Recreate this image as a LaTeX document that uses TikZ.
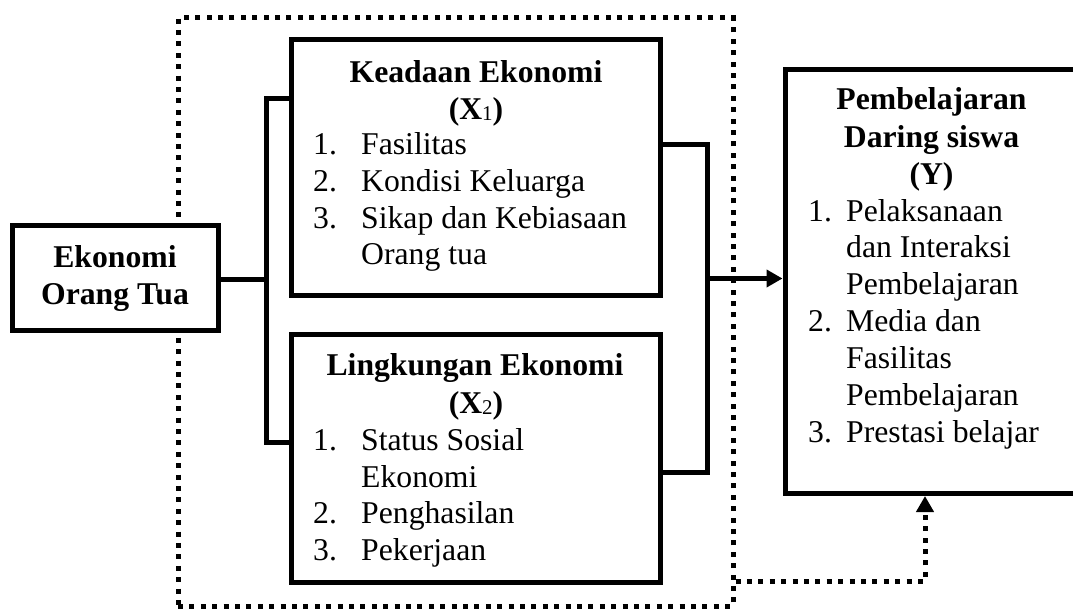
\documentclass[tikz,border=0pt]{standalone}
\usepackage{fontspec}
\setmainfont{Liberation Serif}
\usetikzlibrary{arrows.meta}
\newcommand\myfs{\fontsize{31.7}{37}\selectfont}
\newcommand\mysub[1]{\raisebox{-1pt}{\fontsize{21}{21}\selectfont\mdseries #1}}
\begin{document}
\begin{tikzpicture}[x=1pt,y=-1pt,
  box/.style={draw,line width=5pt,fill=white,inner sep=0pt},
  dotbox/.style={draw,line width=5pt,dash pattern=on 5pt off 6.4pt,inner sep=0pt},
  dotline/.style={line width=5pt,dash pattern=on 5pt off 6.4pt},
  conn/.style={line width=5pt},
  tip/.style={-{Triangle[length=16pt,width=17pt]}},
  tl/.style={inner sep=0pt,anchor=base west,font=\myfs},
  tc/.style={inner sep=0pt,anchor=base,font=\myfs\bfseries}]
\useasboundingbox (0,0) rectangle (1073,609);
\clip (0,0) rectangle (1073,609);
% dotted group
\node[dotbox,minimum width=555pt,minimum height=588pt] (grp) at (455.5,312) {};
% boxes
\node[box,minimum width=206pt,minimum height=105pt] (eot) at (115.5,278) {};
\node[box,minimum width=369pt,minimum height=256pt] (ka) at (476,167.5) {};
\node[box,minimum width=369pt,minimum height=248pt] (lk) at (476,458.5) {};
\node[box,minimum width=305pt,minimum height=424pt] (yb) at (937.5,281.5) {};
% connectors
\coordinate (jl) at (266.5,279.5);
\coordinate (jr) at (707.5,278.5);
\coordinate (fb) at (925,581);
\draw[conn] (eot.east |- jl) -- (jl);
\draw[conn] (ka.west |- 0,99) -| (jl) |- (lk.west |- 0,442);
\draw[conn] (ka.east |- 0,145) -| (jr) |- (lk.east |- 0,472.5);
\draw[conn,tip] (jr) -- (yb.west |- jr);
\draw[dotline,tip] (grp.east |- fb) -- (fb) -- (fb |- yb.south);
% texts: Ekonomi Orang Tua
\node[tc] (e1) at (115,268) {Ekonomi};
\node[tc] (e2) at (115,305) {Orang Tua};
% Keadaan Ekonomi
\node[tc] (k0) at (476,83) {Keadaan Ekonomi};
\node[tc] (k1) at (476,120) {(X\mysub{1})};
\node[tl] (k2n) at (313,155) {1.};
\node[tl] (k2) at (361,155) {Fasilitas};
\node[tl] (k3n) at (313,192) {2.};
\node[tl] (k3) at (361,192) {Kondisi Keluarga};
\node[tl] (k4n) at (313,229) {3.};
\node[tl] (k4) at (361,229) {Sikap dan Kebiasaan};
\node[tl] (k5) at (361,265) {Orang tua};
% Lingkungan Ekonomi
\node[tc] (l0) at (475,375) {Lingkungan Ekonomi};
\node[tc] (l1) at (476,413) {(X\mysub{2})};
\node[tl] (l2n) at (313,450) {1.};
\node[tl] (l2) at (361,450) {Status Sosial};
\node[tl] (l3) at (361,487) {Ekonomi};
\node[tl] (l4n) at (313,523) {2.};
\node[tl] (l4) at (361,523) {Penghasilan};
\node[tl] (l5n) at (313,560) {3.};
\node[tl] (l5) at (361,560) {Pekerjaan};
% Pembelajaran Daring siswa
\node[tc] (y0) at (931.5,110) {Pembelajaran};
\node[tc] (y1) at (931.5,148) {Daring siswa};
\node[tc] (y2) at (931.5,185) {(Y)};
\node[tl] (y3n) at (808,222) {1.};
\node[tl] (y3) at (846,222) {Pelaksanaan};
\node[tl] (y4) at (846,258) {dan Interaksi};
\node[tl] (y5) at (846,295) {Pembelajaran};
\node[tl] (y6n) at (808,332) {2.};
\node[tl] (y6) at (846,332) {Media dan};
\node[tl] (y7) at (846,368) {Fasilitas};
\node[tl] (y8) at (846,405) {Pembelajaran};
\node[tl] (y9n) at (808,442) {3.};
\node[tl] (y9) at (846,442) {Prestasi belajar};
\end{tikzpicture}
\end{document}
